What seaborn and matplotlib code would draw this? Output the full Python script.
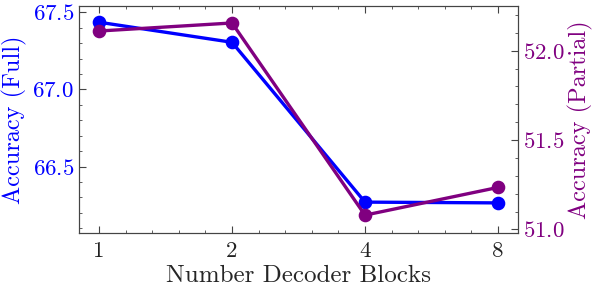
import seaborn as sns
import matplotlib
import matplotlib.pyplot as plt
from matplotlib.ticker import MultipleLocator

save_name = 'out'

blocks = ['1', '2', '4', '8']
acc_full = [67.435, 67.305, 66.27, 66.265]
acc_partial = [52.11, 52.155, 51.08, 51.235]

blue = '#0000ff'
purple = '#800080'

sns.set_style('ticks')
plt.rcParams['font.family'] = ['cmr10', 'DejaVu Serif']
plt.rcParams['mathtext.fontset'] = 'cm'
plt.rcParams['axes.formatter.use_mathtext'] = True
plt.rcParams['axes.unicode_minus'] = False
plt.rcParams['xtick.direction'] = 'in'
plt.rcParams['ytick.direction'] = 'in'

fig, ax = plt.subplots(figsize=(5.98, 2.92), dpi=100)
fig.subplots_adjust(left=79 / 598, right=518 / 598, top=1 - 6 / 292, bottom=1 - 233 / 292)
ax2 = ax.twinx()

sns.pointplot(x=blocks, y=acc_full, color=blue, markers='o', markersize=8,
              linewidth=2.4, ax=ax)
sns.pointplot(x=blocks, y=acc_partial, color=purple, markers='o', markersize=8,
              linewidth=2.4, ax=ax2)

ax.set_xlim(-0.15, 3.15)
ax.set_ylim(66.07, 67.54)
ax2.set_ylim(50.98, 52.25)

ax.set_xlabel('Number Decoder Blocks', fontsize=18, labelpad=3)
ax.set_ylabel('Accuracy (Full)', fontsize=17.5, color=blue, labelpad=4)
ax2.set_ylabel('Accuracy (Partial)', fontsize=17.5, color=purple, labelpad=2)

ax.yaxis.set_major_locator(MultipleLocator(0.5))
ax.yaxis.set_minor_locator(MultipleLocator(0.1))
ax2.yaxis.set_major_locator(MultipleLocator(0.5))
ax2.yaxis.set_minor_locator(MultipleLocator(0.1))
ax.xaxis.set_minor_locator(MultipleLocator(0.2))

ax.tick_params(axis='x', which='both', top=True, labelsize=16.5, colors='#444444', pad=6)
ax.tick_params(axis='x', labelcolor='#222222')
ax.tick_params(axis='y', which='both', labelsize=16.5, labelcolor=blue, color='#444444')
ax2.tick_params(axis='y', which='both', labelsize=16.5, labelcolor=purple, color='#444444')
for a in (ax, ax2):
    a.tick_params(which='major', length=5)
    a.tick_params(which='minor', length=2.5)
    for sp in a.spines.values():
        sp.set_color('#444444')

fig.savefig(f'{save_name}.png', dpi=100)
